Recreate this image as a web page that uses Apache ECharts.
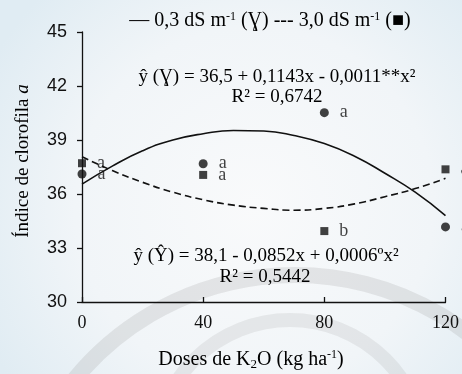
<!DOCTYPE html>
<html>
<head>
<meta charset="utf-8">
<script src="https://cdn.jsdelivr.net/npm/echarts@6/dist/echarts.min.js"></script>
<style>
  html, body { margin: 0; padding: 0; }
  #chart { width: 462px; height: 374px; }
</style>
</head>
<body>
<div id="chart"></div>
<script>
// dados
const doses = [0, 40, 80, 120];
const ce03 = [37.11, 37.68, 40.52, 34.17];   // 0,3 dS m-1 (círculos)
const ce30 = [37.71, 37.06, 33.94, 37.37];   // 3,0 dS m-1 (quadrados)
const letras03 = ['a', 'a', 'a', 'a'];
const letras30 = ['a', 'a', 'b', 'a'];

// curvas ajustadas
const fitX = [0, 10, 20, 30, 40, 50, 60, 70, 80, 90, 100, 110, 120];
const fit03 = [36.55, 37.55, 38.4, 39.0, 39.35, 39.53, 39.5, 39.25, 38.8, 38.1, 37.15, 36.1, 34.8];
const fit30 = [38.07, 37.3, 36.65, 36.1, 35.68, 35.38, 35.2, 35.1, 35.2, 35.45, 35.85, 36.3, 36.87];

const yTicks = [30, 33, 36, 39, 42, 45];
const xTicks = [0, 40, 80, 120];

const serif = 'Liberation Serif';
const sans = 'Liberation Sans';
const ink = '#111';

const myChart = echarts.init(document.getElementById('chart'));

const pares = (xs, ys) => xs.map((x, i) => [x, ys[i]]);

const rotulo = (letras) => ({
    show: true,
    position: 'right',
    distance: 11,
    fontFamily: serif,
    fontSize: 18,
    color: ink,
    formatter: p => letras[p.dataIndex]
});

// estilos de texto rico (sobrescrito / subscrito)
const rico = (tam) => ({
    sup: { fontFamily: serif, fontSize: Math.round(tam * 0.6), color: ink, verticalAlign: 'top', padding: [0, 0, 7, 0] },
    sub: { fontFamily: serif, fontSize: Math.round(tam * 0.65), color: ink, padding: [10, 0, 0, 0] },
    n: { fontFamily: serif, fontSize: tam, color: ink },
    i: { fontFamily: serif, fontSize: tam, color: ink, fontStyle: 'italic' }
});

const texto = (x, y, txt, tam, rot) => ({
    type: 'text', x: x, y: y, rotation: rot || 0,
    style: { text: txt, rich: rico(tam), align: 'center', verticalAlign: 'middle' }
});

const option = {
    backgroundColor: {
        type: 'radial', x: 0.55, y: 0.55, r: 0.8,
        colorStops: [
            { offset: 0, color: '#f9fafb' },
            { offset: 0.6, color: '#f1f5f8' },
            { offset: 1, color: '#e0ecf3' }
        ]
    },
    animation: false,
    grid: { left: 82, right: 15, top: 32, bottom: 72 },
    xAxis: {
        type: 'value', min: 0, max: 120, interval: 40,
        axisLine: { lineStyle: { color: ink, width: 1.3 } },
        axisTick: { inside: true, length: 5, lineStyle: { color: ink, width: 1.3 } },
        axisLabel: { fontFamily: serif, fontSize: 18, color: ink, margin: 12,
            formatter: v => xTicks.includes(v) ? String(v) : '' },
        splitLine: { show: false }
    },
    yAxis: {
        type: 'value', min: 30, max: 45, interval: 3,
        axisLine: { show: true, lineStyle: { color: ink, width: 1.3 } },
        axisTick: { show: true, length: 5, lineStyle: { color: ink, width: 1.3 } },
        axisLabel: { fontFamily: sans, fontSize: 18, color: ink, margin: 15,
            formatter: v => yTicks.includes(v) ? String(v) : '' },
        splitLine: { show: false }
    },
    graphic: [
        // marca d'água
        { type: 'arc', z: -10, silent: true,
          shape: { cx: 295, cy: 560, r: 285, startAngle: Math.PI * 1.08, endAngle: Math.PI * 1.95 },
          style: { stroke: 'rgba(150,150,150,0.2)', lineWidth: 16, fill: null } },
        { type: 'arc', z: -10, silent: true,
          shape: { cx: 290, cy: 455, r: 135, startAngle: Math.PI * 1.0, endAngle: Math.PI * 2.0 },
          style: { stroke: 'rgba(150,150,150,0.16)', lineWidth: 14, fill: null } },
        // legenda e equações
        texto(270, 21, '{n|— 0,3 dS m}{sup|-1}{n| (Ɣ) --- 3,0 dS m}{sup|-1}{n| (■)}', 20),
        texto(277, 77, '{n|ŷ (Ɣ) = 36,5 + 0,1143x - 0,0011**x²}', 19),
        texto(277, 97, '{n|R² = 0,6742}', 19),
        texto(266, 256, '{n|ŷ (Ŷ) = 38,1 - 0,0852x + 0,0006ºx²}', 19),
        texto(265, 277, '{n|R² = 0,5442}', 19),
        // títulos dos eixos
        texto(251, 360, '{n|Doses de K}{sub|2}{n|O (kg ha}{sup|-1}{n|)}', 20),
        texto(23, 161, '{n|Índice de clorofila }{i|a}', 19, Math.PI / 2)
    ],
    series: [
        {
            name: '0,3 dS m-1 ajuste', type: 'line', smooth: true, symbol: 'none',
            lineStyle: { color: ink, width: 1.6 },
            data: pares(fitX, fit03), z: 2
        },
        {
            name: '3,0 dS m-1 ajuste', type: 'line', smooth: true, symbol: 'none',
            lineStyle: { color: ink, width: 1.6, type: [7, 4] },
            data: pares(fitX, fit30), z: 2
        },
        {
            name: '0,3 dS m-1', type: 'scatter', symbol: 'circle', symbolSize: 9,
            itemStyle: { color: ink },
            label: rotulo(letras03),
            data: pares(doses, ce03), z: 3
        },
        {
            name: '3,0 dS m-1', type: 'scatter', symbol: 'rect', symbolSize: 8,
            itemStyle: { color: ink },
            label: rotulo(letras30),
            data: pares(doses, ce30), z: 3
        }
    ]
};

myChart.setOption(option);
</script>
</body>
</html>
